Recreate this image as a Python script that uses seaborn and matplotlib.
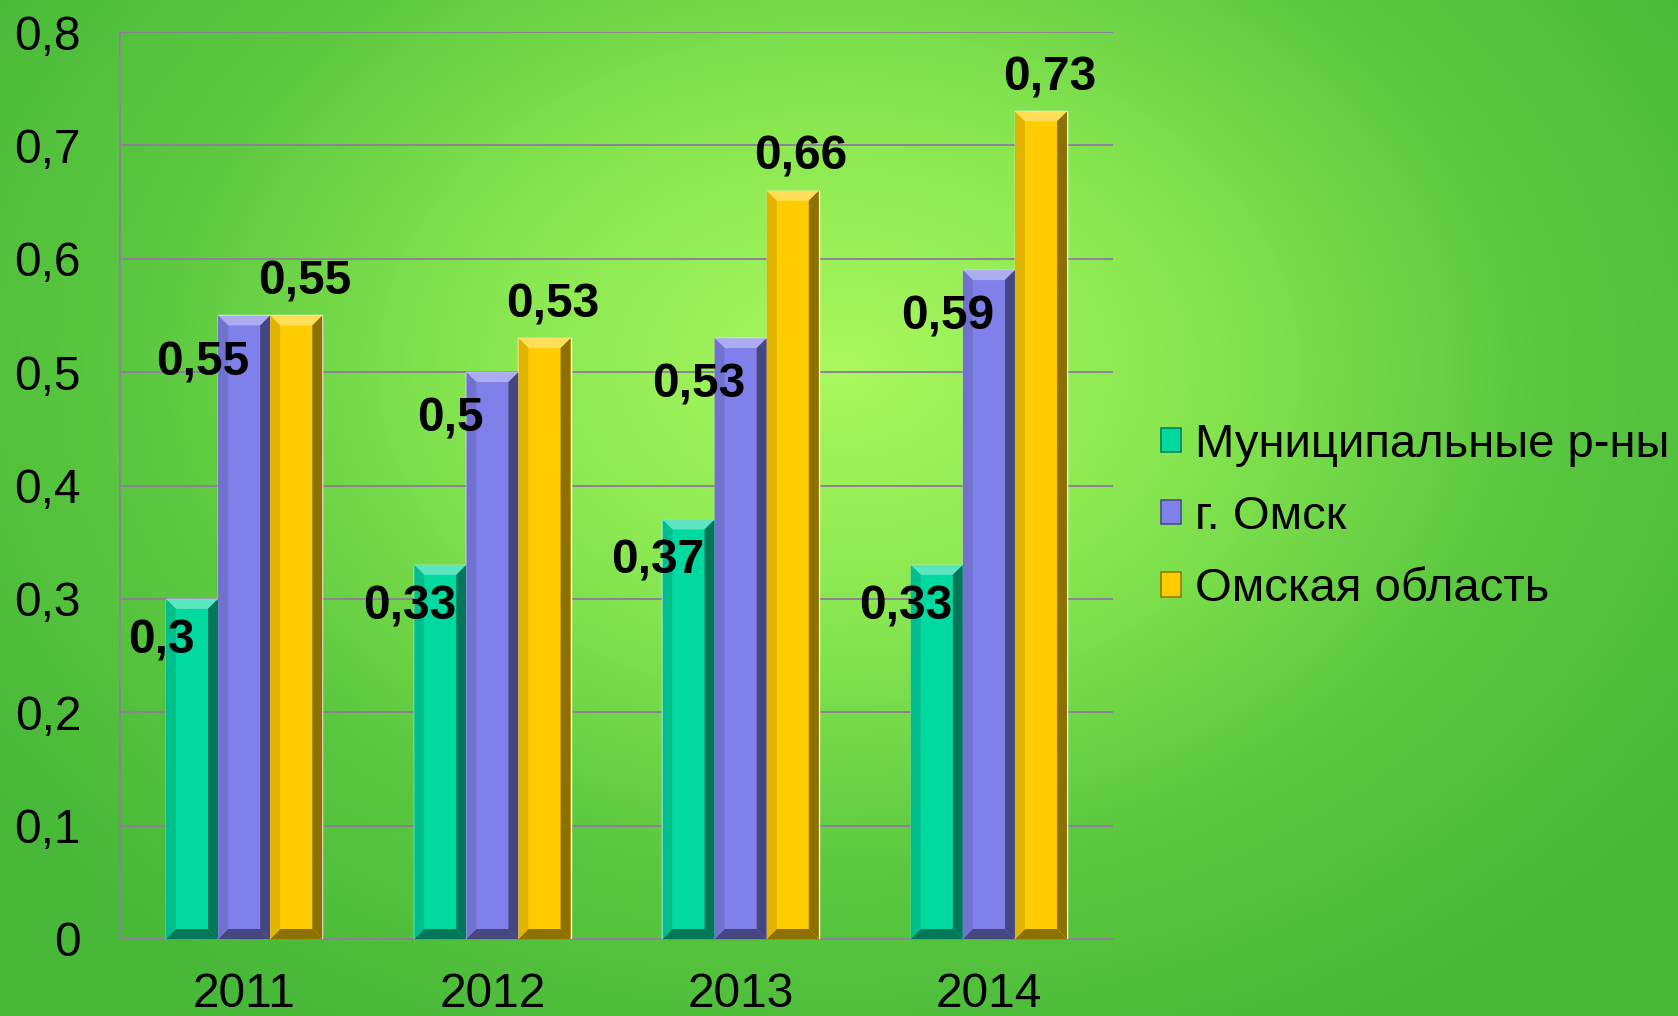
import numpy as np
import pandas as pd
import matplotlib
matplotlib.use("Agg")
import matplotlib.pyplot as plt
import matplotlib.colors as mcolors
from matplotlib.patches import Polygon
import seaborn as sns

# data
years = ["2011", "2012", "2013", "2014"]
munic = [0.30, 0.33, 0.37, 0.33]
omsk_city = [0.55, 0.50, 0.53, 0.59]
omsk_region = [0.55, 0.53, 0.66, 0.73]
series_names = ["Муниципальные р-ны", "г. Омск", "Омская область"]
bar_colors = ["#00d9a0", "#8080ea", "#ffcc00"]
y_ticks = [0, 0.1, 0.2, 0.3, 0.4, 0.5, 0.6, 0.7, 0.8]

rows = []
for name, vals in zip(series_names, [munic, omsk_city, omsk_region]):
    for yr, v in zip(years, vals):
        rows.append({"year": yr, "series": name, "value": v})
df = pd.DataFrame(rows)

sns.set_style("white")
plt.rcParams["font.family"] = ["Liberation Sans", "DejaVu Sans"]
plt.rcParams["text.color"] = "black"

FS = 34.5
W, H = 1678, 1016
fig = plt.figure(figsize=(W / 100, H / 100), dpi=100)

# radial green background
bg = fig.add_axes([0, 0, 1, 1], zorder=-10)
gx, gy = np.meshgrid(np.linspace(0, 1, 400), np.linspace(0, 1, 250))
d = np.sqrt(((gx - 0.50) / 0.62) ** 2 + ((gy - 0.36) / 0.75) ** 2)
d = np.clip(d, 0, 1)
cmap = mcolors.LinearSegmentedColormap.from_list("g", ["#aaf75e", "#88e750", "#5cc840", "#47b838"])
bg.imshow(d, cmap=cmap, aspect="auto", extent=[0, 1, 1, 0], interpolation="bilinear")
bg.axis("off")

ax = fig.add_axes([120 / W, 1 - 939 / H, (1113 - 120) / W, (939 - 32) / H])
ax.set_facecolor("none")

sns.barplot(data=df, x="year", y="value", hue="series", palette=bar_colors,
            width=0.63, saturation=1, ax=ax, legend=True, zorder=3)

ax.set_ylim(0, 0.8)
ax.set_xlim(-0.5, 3.5)
ax.set_yticks(y_ticks)
ax.set_yticklabels([f"{v:g}".replace(".", ",") for v in y_ticks])
ax.set_xticks([-0.5, 0.5, 1.5, 2.5, 3.5], minor=False)
ax.set_xticklabels([])
ax.set_xticks([0, 1, 2, 3], minor=True)
ax.set_xticklabels(years, minor=True)
ax.set_xlabel("")
ax.set_ylabel("")

grid_c = "#8d8298"
ax.grid(axis="y", color=grid_c, linewidth=1.4, zorder=0)
ax.set_axisbelow(True)
for s in ["top", "right"]:
    ax.spines[s].set_visible(False)
for s in ["left", "bottom"]:
    ax.spines[s].set_color(grid_c)
    ax.spines[s].set_linewidth(1.4)
ax.tick_params(axis="y", which="major", length=10, width=1.4, color=grid_c,
               labelsize=FS, pad=18, labelcolor="black")
ax.tick_params(axis="x", which="major", length=10, width=1.4, color=grid_c)
ax.tick_params(axis="x", which="minor", length=0, labelsize=FS, pad=24, labelcolor="black")

# bevel effect on bars
fig.canvas.draw()
bbox = ax.get_window_extent()
bx = 10 * 4.0 / bbox.width
by = 10 * 0.8 / bbox.height


def shade(c, f):
    r, g, b = mcolors.to_rgb(c)
    if f > 0:
        return (r + (1 - r) * f, g + (1 - g) * f, b + (1 - b) * f)
    return (r * (1 + f), g * (1 + f), b * (1 + f))


for i, cont in enumerate(ax.containers):
    col = bar_colors[i]
    for p in cont:
        x0, w, h = p.get_x(), p.get_width(), p.get_height()
        x1 = x0 + w
        faces = [
            ([(x0, h), (x1, h), (x1 - bx, h - by), (x0 + bx, h - by)], shade(col, 0.35)),
            ([(x1, h), (x1, 0), (x1 - bx, by), (x1 - bx, h - by)], shade(col, -0.45)),
            ([(x0, 0), (x1, 0), (x1 - bx, by), (x0 + bx, by)], shade(col, -0.45)),
            ([(x0, 0), (x0, h), (x0 + bx, h - by), (x0 + bx, by)], shade(col, -0.12)),
        ]
        for pts, fc in faces:
            ax.add_patch(Polygon(pts, closed=True, facecolor=fc, edgecolor="none", zorder=4))

# data labels
offsets = [(-22, -30), (-30, -34), (6, 24)]
for i, cont in enumerate(ax.containers):
    vals = [munic, omsk_city, omsk_region][i]
    for p, v in zip(cont, vals):
        ax.annotate(f"{v:g}".replace(".", ","), xy=(p.get_x() + p.get_width() / 2, v),
                    xytext=offsets[i], textcoords="offset points", ha="center", va="center",
                    fontsize=FS, fontweight="bold", color="black", zorder=6)

leg = ax.legend(loc="center left", bbox_to_anchor=(1161 / W, 1 - 517 / H),
                bbox_transform=fig.transFigure, frameon=False, fontsize=34,
                handlelength=0.42, handleheight=0.42, handletextpad=0.3,
                labelspacing=0.6, borderpad=0, borderaxespad=0, title=None)
for h, c in zip(leg.legend_handles, bar_colors):
    h.set_edgecolor(shade(c, -0.4))
    h.set_linewidth(1.2)
for t in leg.get_texts():
    t.set_color("black")

fig.savefig("out.png", dpi=100)
